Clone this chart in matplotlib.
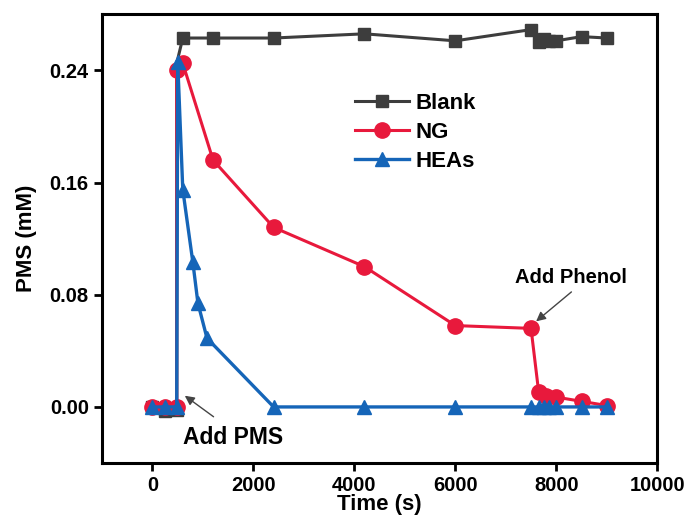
import matplotlib.pyplot as plt

plt.rcParams['font.family'] = ['Liberation Sans', 'DejaVu Sans']
plt.rcParams['font.weight'] = 'bold'

# PMS concentration vs time
blank_t = [0, 240, 480, 480, 600, 1200, 2400, 4200, 6000, 7500, 7650, 7750, 7850, 8000, 8500, 9000]
blank_c = [0.0, -0.003, -0.002, 0.245, 0.263, 0.263, 0.263, 0.266, 0.261, 0.269, 0.260, 0.262, 0.261, 0.261, 0.264, 0.263]
blank_marks = [0, 1, 2, 4, 5, 6, 7, 8, 9, 10, 11, 12, 13, 14, 15]

ng_t = [0, 240, 480, 480, 600, 1200, 2400, 4200, 6000, 7500, 7650, 7800, 8000, 8500, 9000]
ng_c = [0.0, 0.0, 0.0, 0.240, 0.245, 0.176, 0.128, 0.100, 0.058, 0.056, 0.011, 0.008, 0.007, 0.004, 0.001]

hea_t = [0, 240, 480, 500, 600, 800, 900, 1080, 2400, 4200, 6000, 7500, 7650, 7750, 7850, 8000, 8500, 9000]
hea_c = [0.0, 0.0, 0.0, 0.246, 0.155, 0.103, 0.074, 0.049, 0.0, 0.0, 0.0, 0.0, 0.0, 0.0, 0.0, 0.0, 0.0, 0.0]

fig = plt.figure(figsize=(6.94, 5.25), dpi=100)
ax = fig.add_axes([0.147, 0.118, 0.800, 0.855])

ax.plot(blank_t, blank_c, color='#3d3d3d', marker='s', ms=9, lw=2.2,
        markevery=blank_marks, label='Blank')
ax.plot(ng_t, ng_c, color='#e8193c', marker='o', ms=11, lw=2.2, label='NG')
ax.plot(hea_t, hea_c, color='#1565b8', marker='^', ms=10, lw=2.4, label='HEAs')

ax.set_xlim(-1000, 10000)
ax.set_ylim(-0.04, 0.28)
ax.set_xticks([0, 2000, 4000, 6000, 8000, 10000])
ax.set_yticks([0.0, 0.08, 0.16, 0.24])
ax.set_yticklabels(['0.00', '0.08', '0.16', '0.24'])
ax.tick_params(direction='out', length=6, width=2, labelsize=14.5)
for s in ax.spines.values():
    s.set_linewidth(2.2)

ax.set_xlabel('Time (s)', fontsize=16, fontweight='bold', labelpad=-1)
ax.set_ylabel('PMS (mM)', fontsize=16, fontweight='bold', labelpad=9)

arrow = dict(arrowstyle='-|>', color='#444444', lw=1, mutation_scale=14,
             shrinkA=0, shrinkB=0)
ax.annotate('', xy=(640, 0.008), xytext=(1210, -0.007), arrowprops=arrow)
ax.text(1600, -0.022, 'Add PMS', fontsize=16.5, fontweight='bold',
        ha='center', va='center')
ax.annotate('', xy=(7600, 0.061), xytext=(8300, 0.082), arrowprops=arrow)
ax.text(8300, 0.092, 'Add Phenol', fontsize=14.5, fontweight='bold',
        ha='center', va='center')

ax.legend(loc='upper left', bbox_to_anchor=(0.42, 0.869), frameon=False,
          fontsize=16, handlelength=2.4, handletextpad=0.3, labelspacing=0.35)

fig.savefig('out.png', dpi=100)
